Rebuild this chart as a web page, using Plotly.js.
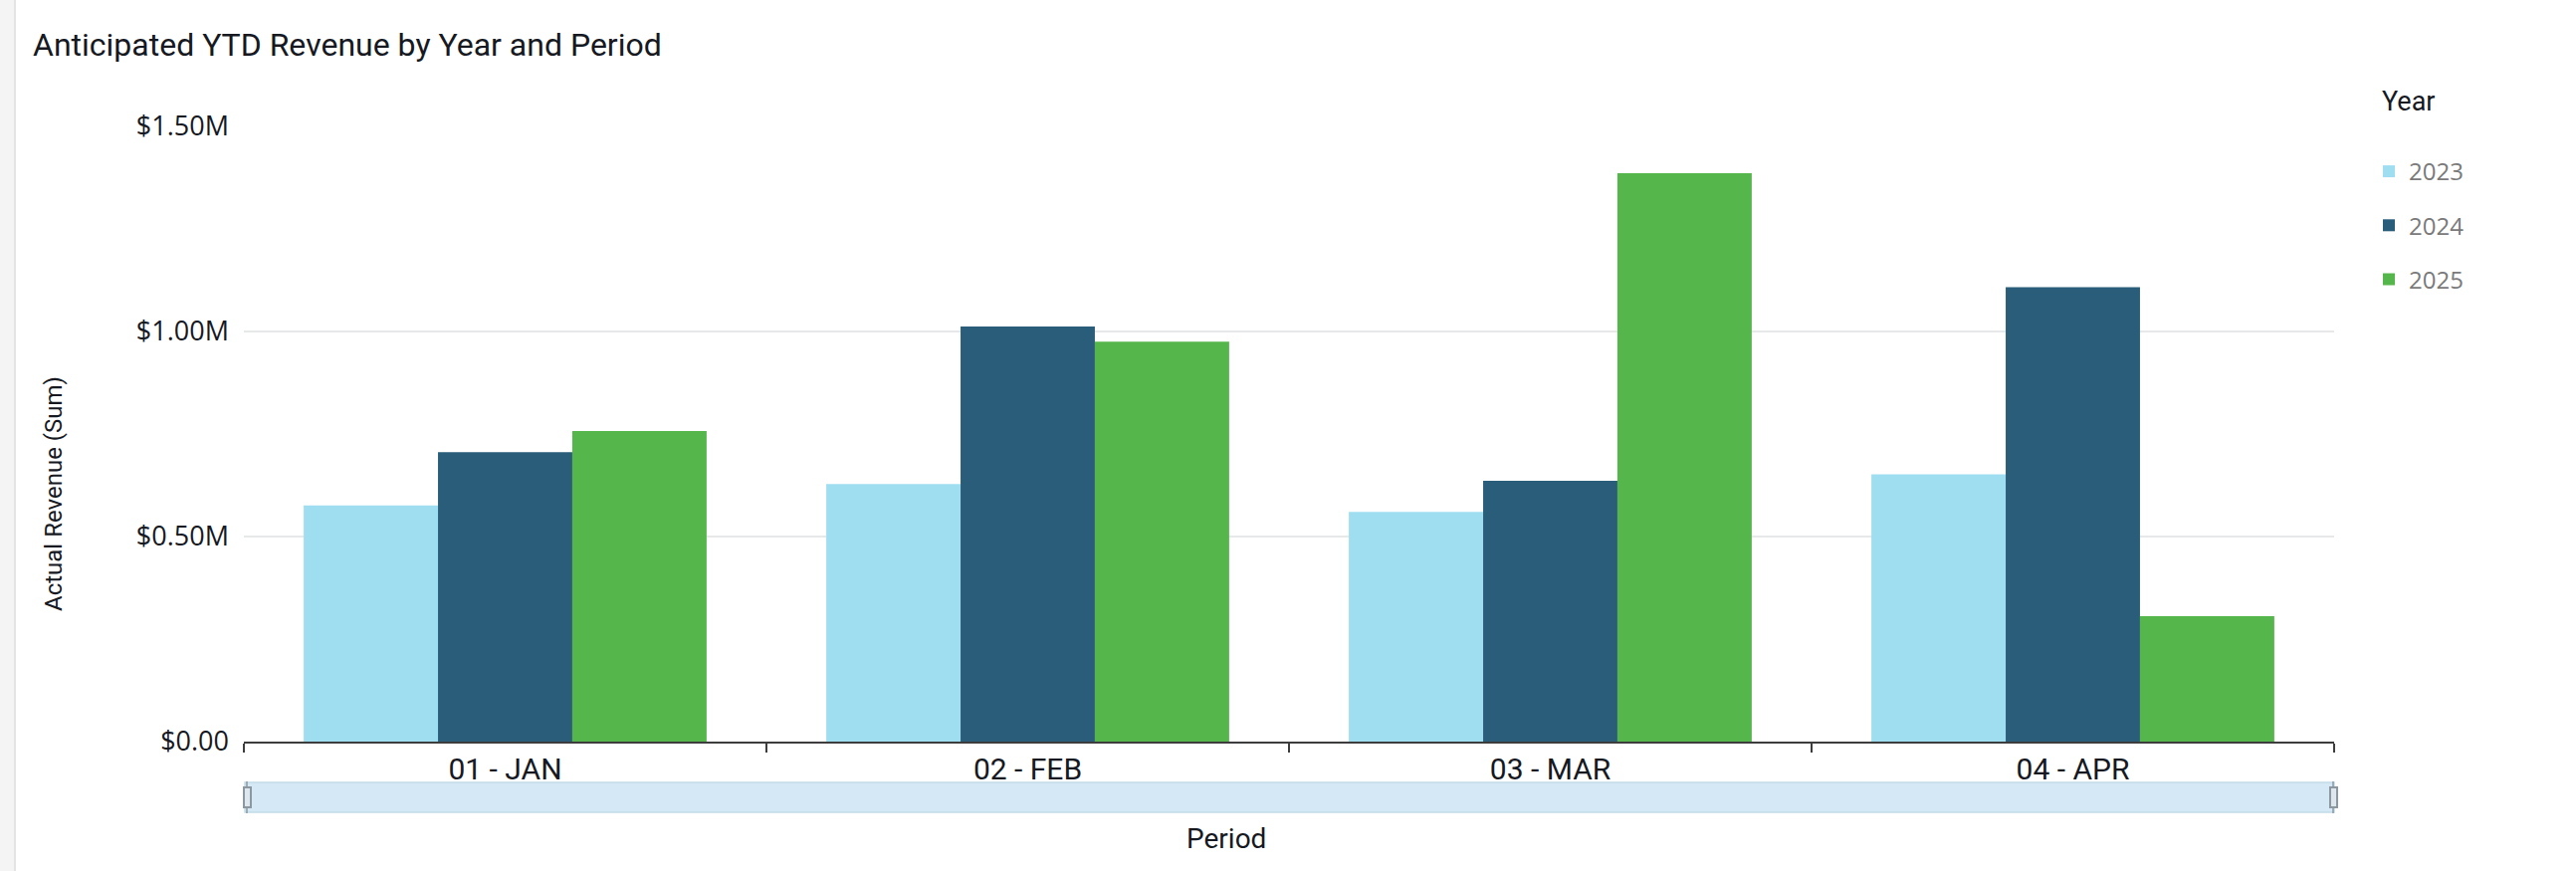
<!DOCTYPE html>
<html>
<head>
<meta charset="utf-8">
<script src="https://cdn.plot.ly/plotly-3.0.1.min.js"></script>
<style>
  html, body { margin: 0; padding: 0; background: #ffffff; }
  #chart { width: 2588px; height: 875px; }
</style>
</head>
<body>
<div id="chart"></div>
<script>
// ---- Data ----
const periods = ["01 - JAN", "02 - FEB", "03 - MAR", "04 - APR"];
const years = ["2023", "2024", "2025"];
const revenue2023 = [576000, 628000, 560000, 652000];
const revenue2024 = [706000, 1012000, 636000, 1108000];
const revenue2025 = [757000, 975000, 1386000, 306000];
const yTickVals = [0, 500000, 1000000, 1500000];
const yTickText = ["$0.00", "$0.50M", "$1.00M", "$1.50M"];

const seriesValues = [revenue2023, revenue2024, revenue2025];
const seriesColors = ["#9fdef0", "#2a5d79", "#55b64b"];

const traces = years.map((yr, i) => ({
  type: "bar",
  name: yr,
  x: periods,
  y: seriesValues[i],
  marker: { color: seriesColors[i], line: { width: 0 } },
  legendgroup: yr,
  hovertemplate: "%{x}<br>" + yr + ": %{y:$,.0f}<extra></extra>"
}));

const W = 2588, H = 875;
const L = 245, R = 243, T = 127, B = 130;
const plotW = W - L - R, plotH = H - T - B;
const px = v => (v - L) / plotW;          // container x -> paper x
const py = v => 1 - (v - T) / plotH;      // container y -> paper y

const layout = {
  width: W,
  height: H,
  margin: { l: L, r: R, t: T, b: B, pad: 0 },
  paper_bgcolor: "#ffffff",
  plot_bgcolor: "#ffffff",
  font: { family: "Roboto, 'Open Sans', sans-serif", color: "#16191f" },
  title: {
    text: "Anticipated YTD Revenue by Year and Period",
    font: { family: "Roboto, sans-serif", size: 32, color: "#16191f" },
    xref: "container", x: 33 / W, xanchor: "left",
    yref: "container", y: 1 - 45 / H, yanchor: "middle"
  },
  barmode: "group",
  bargap: 0.229,
  bargroupgap: 0,
  xaxis: {
    type: "category",
    showgrid: false,
    showline: true,
    linecolor: "#3d3d3d",
    linewidth: 2,
    ticks: "outside",
    tickson: "boundaries",
    ticklen: 9,
    tickwidth: 2,
    tickcolor: "#3d3d3d",
    tickfont: { family: "Roboto, sans-serif", size: 30, color: "#16191f" },
    ticklabelstandoff: 0,
    fixedrange: true
  },
  yaxis: {
    range: [0, 1500000],
    tickvals: yTickVals,
    ticktext: yTickText,
    showgrid: true,
    gridcolor: "#e6e8ea",
    gridwidth: 2,
    zeroline: false,
    showline: false,
    tickfont: { family: "'Open Sans', sans-serif", size: 27, color: "#16191f" },
    ticklabelstandoff: 14,
    fixedrange: true
  },
  showlegend: true,
  legend: {
    font: { family: "'Open Sans', sans-serif", size: 24, color: "#7a7a7a" },
    x: px(2380), xanchor: "left",
    y: py(150), yanchor: "top",
    tracegroupgap: 20,
    itemwidth: 30,
    bgcolor: "rgba(0,0,0,0)"
  },
  annotations: [
    {
      text: "Year",
      xref: "paper", yref: "paper",
      x: px(2391), y: py(102),
      xanchor: "left", yanchor: "middle",
      showarrow: false,
      font: { family: "Roboto, sans-serif", size: 27, color: "#16191f" }
    },
    {
      text: "Actual Revenue (Sum)",
      xref: "paper", yref: "paper",
      x: px(54), y: py(496),
      xanchor: "center", yanchor: "middle",
      textangle: -90, showarrow: false,
      font: { family: "Roboto, sans-serif", size: 24, color: "#16191f" }
    },
    {
      text: "Period",
      xref: "paper", yref: "paper",
      x: px(1232), y: py(842),
      xanchor: "center", yanchor: "middle",
      showarrow: false,
      font: { family: "Roboto, sans-serif", size: 28, color: "#16191f" }
    }
  ],
  shapes: [
    // left page strip
    { type: "rect", xref: "paper", yref: "paper", x0: px(0), x1: px(14), y0: py(H), y1: py(0),
      fillcolor: "#f4f4f4", line: { width: 0 }, layer: "below" },
    { type: "line", xref: "paper", yref: "paper", x0: px(15), x1: px(15), y0: py(H), y1: py(0),
      line: { color: "#e4e4e4", width: 2 }, layer: "below" },
    // range slider track
    { type: "rect", xref: "paper", yref: "paper", x0: px(246), x1: px(2345), y0: py(816), y1: py(786),
      fillcolor: "#d4e9f5", line: { color: "#c2dae8", width: 1.5 }, layer: "above" },
    // handles
    { type: "line", xref: "paper", yref: "paper", x0: px(248), x1: px(248), y0: py(817), y1: py(785),
      line: { color: "#8c979f", width: 1.5 } },
    { type: "rect", xref: "paper", yref: "paper", x0: px(245), x1: px(252), y0: py(811), y1: py(791),
      fillcolor: "#dde7ee", line: { color: "#8c979f", width: 2 } },
    { type: "line", xref: "paper", yref: "paper", x0: px(2344), x1: px(2344), y0: py(817), y1: py(785),
      line: { color: "#8c979f", width: 1.5 } },
    { type: "rect", xref: "paper", yref: "paper", x0: px(2341), x1: px(2348), y0: py(811), y1: py(791),
      fillcolor: "#dde7ee", line: { color: "#8c979f", width: 2 } }
  ]
};

Plotly.newPlot("chart", traces, layout, { displayModeBar: false, responsive: false });
</script>
</body>
</html>
